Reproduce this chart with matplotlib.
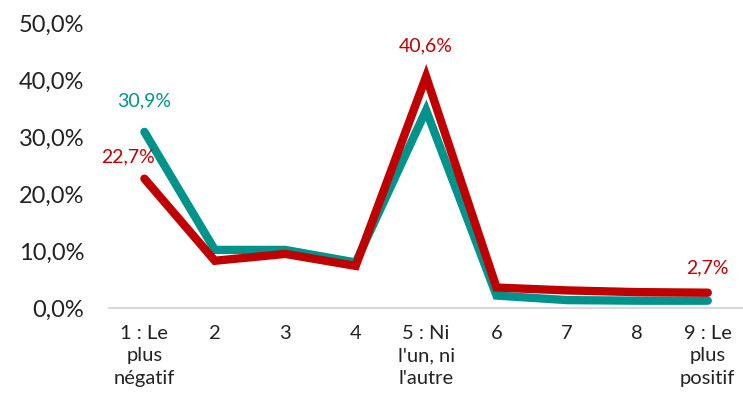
import matplotlib.pyplot as plt

# categories on the x axis
categories = ["1 : Le\nplus\nnégatif", "2", "3", "4", "5 : Ni\nl'un, ni\nl'autre",
              "6", "7", "8", "9 : Le\nplus\npositif"]

# series values (percent)
teal_vals = [30.9, 10.2, 10.2, 8.0, 34.7, 2.2, 1.4, 1.3, 1.3]
red_vals = [22.7, 8.3, 9.5, 7.4, 40.6, 3.6, 3.1, 2.8, 2.7]

yticks = [0, 10, 20, 30, 40, 50]

TEAL = "#00938C"
RED = "#C00000"

plt.rcParams['font.family'] = ['Lato', 'DejaVu Sans']

fig = plt.figure(figsize=(7.43, 3.96), dpi=100)
ax = fig.add_axes([0.147, 0.222, 0.853, 0.72])

x = list(range(1, len(categories) + 1))
ax.plot(x, teal_vals, color=TEAL, lw=6, solid_capstyle='round', solid_joinstyle='miter')
ax.plot(x, red_vals, color=RED, lw=6, solid_capstyle='round', solid_joinstyle='miter')

# data labels
lab = dict(textcoords='offset points', ha='center', va='center', fontsize=14)
ax.annotate("30,9%", (1, teal_vals[0]), xytext=(0, 22), color=TEAL, **lab)
ax.annotate("22,7%", (1, red_vals[0]), xytext=(-12, 16), color=RED, **lab)
ax.annotate("40,6%", (5, red_vals[4]), xytext=(0, 22), color=RED, **lab)
ax.annotate("2,7%", (9, red_vals[8]), xytext=(0, 18), color=RED, **lab)

ax.set_xlim(0.5, 9.5)
ax.set_ylim(0, 50)
ax.set_yticks(yticks)
ax.set_yticklabels([f"{v},0%" for v in yticks], fontsize=17, color="#222222")
ax.set_xticks(x)
ax.set_xticklabels(categories, fontsize=14.5, color="#222222", linespacing=1.4)
ax.tick_params(axis='both', length=0)
ax.tick_params(axis='x', pad=12)
ax.tick_params(axis='y', pad=18)

for s in ['top', 'right', 'left']:
    ax.spines[s].set_visible(False)
ax.spines['bottom'].set_color('#D9D9D9')
ax.spines['bottom'].set_linewidth(1.5)

fig.savefig("out.png", dpi=100)
